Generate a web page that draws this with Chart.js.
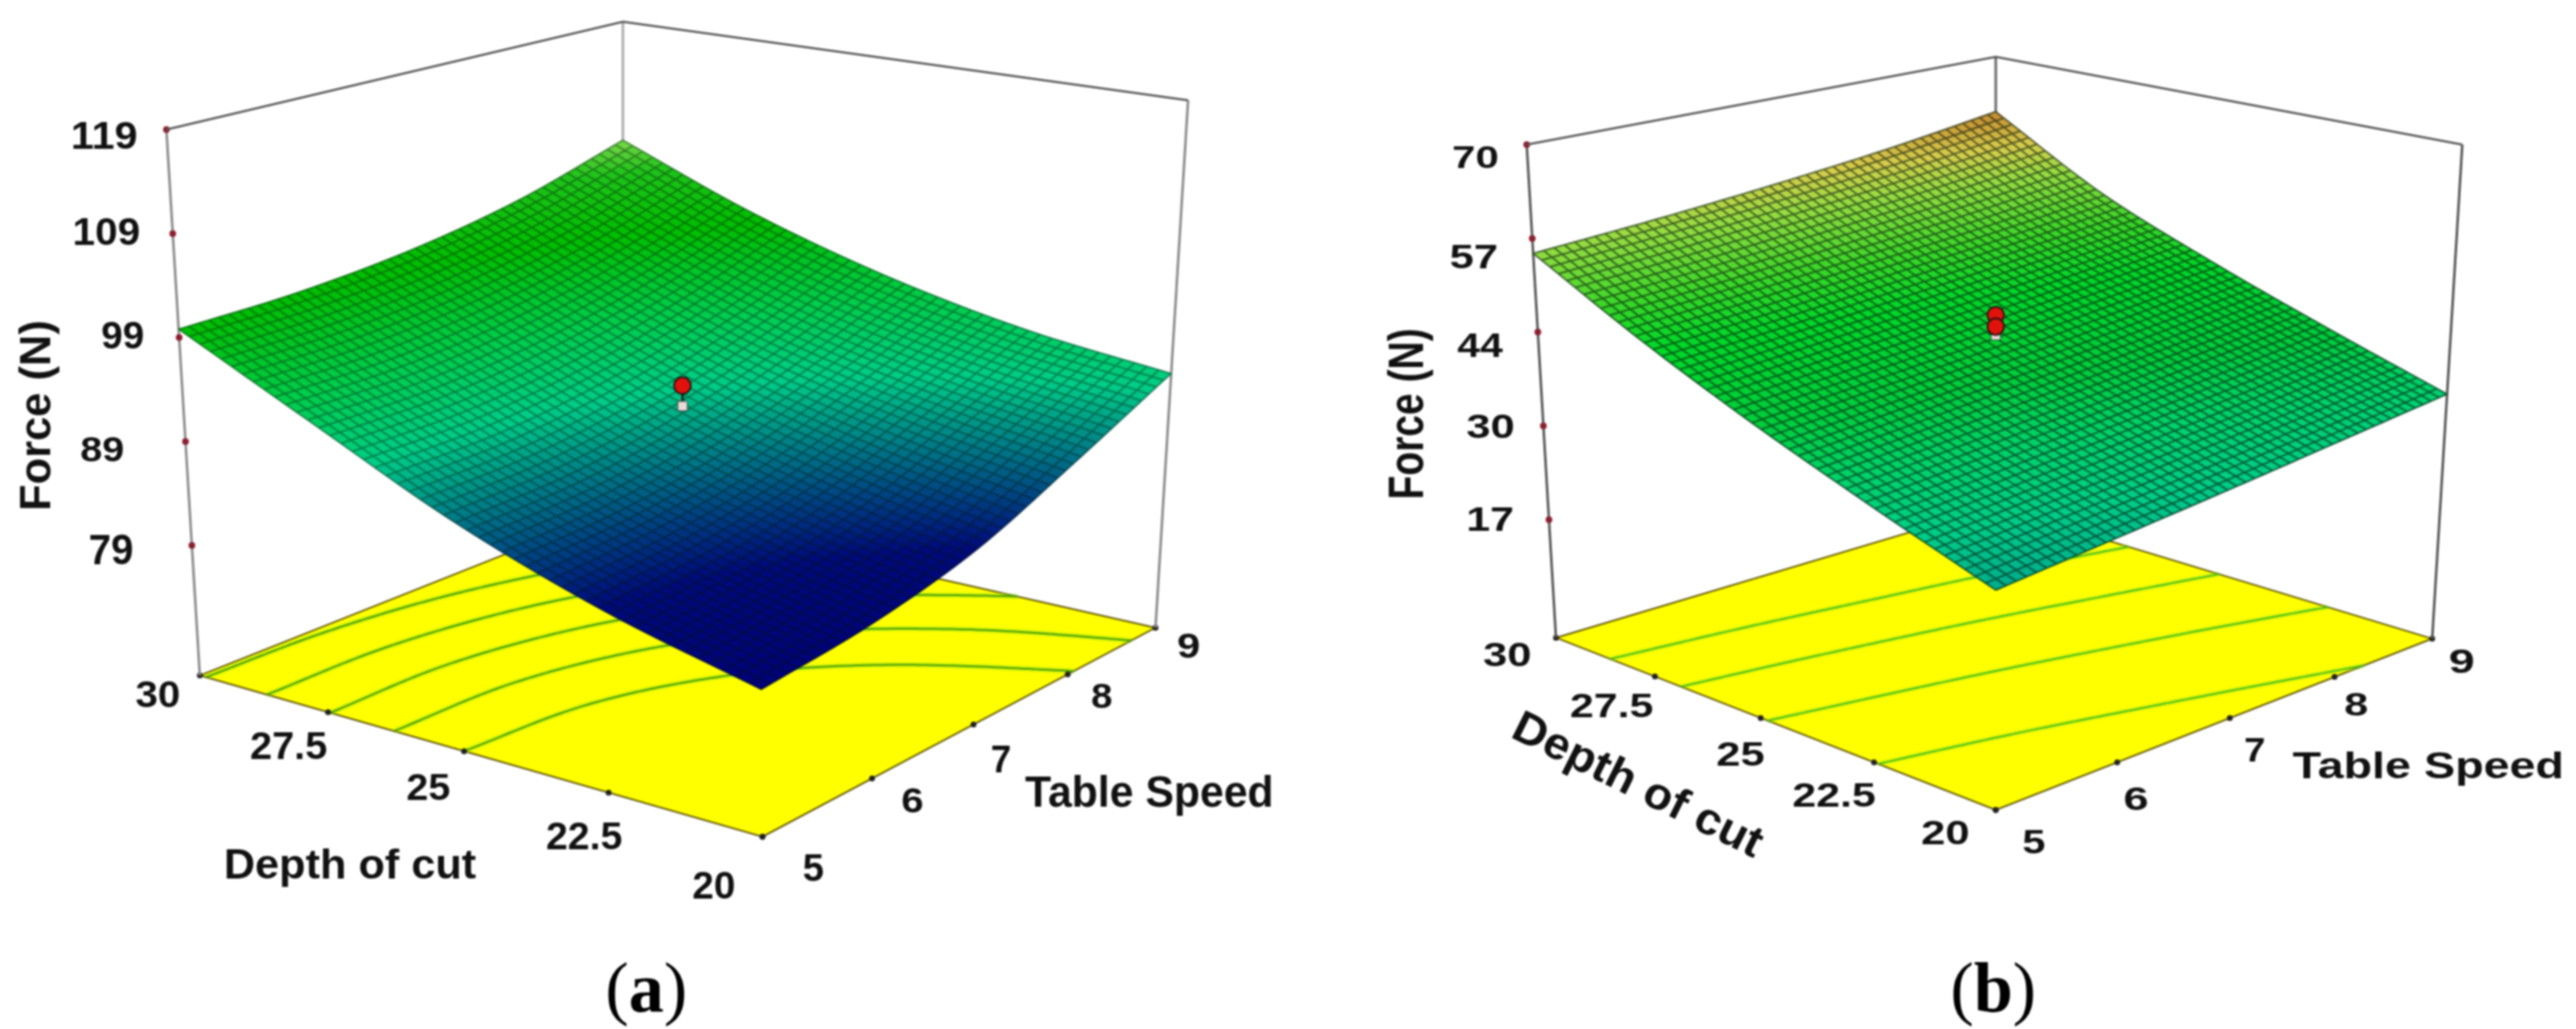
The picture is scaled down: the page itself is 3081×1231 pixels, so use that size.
<!DOCTYPE html>
<html>
<head>
<meta charset="utf-8">
<title>Force response surfaces</title>
<script src="https://cdn.jsdelivr.net/npm/chart.js@4"></script>
<style>
    html, body { margin: 0; padding: 0; background: #fff; }
    body { width: 3081px; height: 1231px; position: relative; overflow: hidden; }
    canvas { position: absolute; top: 0; filter: blur(0.8px); }
    #chartA { left: 0; }
    #chartB { left: 1540px; }
</style>
</head>
<body>
<canvas id="chartA" width="1540" height="1231"></canvas>
<canvas id="chartB" width="1541" height="1231"></canvas>
<script>
// ----------------------------
// 1. Data
// ----------------------------
const tableSpeed = [5, 6, 7, 8, 9];
const depthOfCut = [20, 22.5, 25, 27.5, 30];

// (a) force over table speed, one array per depth of cut
const forceA20 = [79.4, 80.6, 83.0, 87.2, 91.8];
const forceA22 = [82.8, 83.8, 86.0, 89.6, 93.6];
const forceA25 = [87.5, 88.0, 89.8, 92.8, 96.6];
const forceA27 = [93.6, 93.7, 95.0, 97.4, 100.8];
const forceA30 = [99.8, 100.0, 101.0, 103.0, 106.2];
const forceTicksA = [79, 89, 99, 109, 119];
const contourLevelsA = [87.5, 90.5, 93.5, 96.5, 99.5];
const designRedA = [92.5];
const designWhiteA = [90.5];

// (b)
const forceB20 = [28.6, 30.2, 31.8, 33.5, 35.2];
const forceB22 = [34.2, 35.6, 37.2, 38.8, 40.5];
const forceB25 = [40.2, 41.6, 43.0, 44.6, 46.2];
const forceB27 = [47.0, 48.2, 49.6, 51.0, 52.7];
const forceB30 = [54.8, 56.0, 57.5, 59.3, 61.6];
const forceTicksB = [17.6, 30.7, 43.8, 56.9, 70];
const contourLevelsB = [34, 39.8, 45.2, 50.4];
const designRedB = [46.2, 44.6];
const designWhiteB = [43.4];

// ----------------------------
// 2. Panel set-up (view box and colours)
// ----------------------------
const panelA = {
    canvas: 'chartA', xMin: 0, xMax: 1540,
    grid: [forceA20, forceA22, forceA25, forceA27, forceA30],
    ticks: forceTicksA, contours: contourLevelsA, red: designRedA, white: designWhiteA,
    zMin: 66.5, zMax: 119,
    floor: { F: [912, 1001], R: [1382, 751], B: [745, 607], L: [239, 808] },
    top: { F: [906, 284], R: [1421, 120], B: [745, 26], L: [199, 155] },
    stops: [[79, 0, 0, 118], [83, 0, 10, 122], [85.5, 0, 70, 130], [88, 0, 130, 135], [91, 0, 205, 135],
            [95, 0, 205, 75], [100, 0, 190, 0], [104, 30, 195, 25], [106.5, 135, 220, 80]],
    meshAlpha: 0.4,
    backEdge: '#aaaaaa', sideEdge: '#8a8a8a', boxEdge: '#555555',
    contourColour: 'rgba(50,145,10,0.95)', glowColour: 'rgba(150,225,20,0.35)',
    texts: [
        ['79', 107, 640, 158, 675], ['89', 97, 522, 147, 552], ['99', 122, 385, 171, 417],
        ['109', 89, 261, 166, 293], ['119', 87, 146, 163, 178],
        ['30', 163, 815, 214, 846], ['27.5', 300, 876, 391, 908], ['25', 487, 926, 538, 957],
        ['22.5', 654, 984, 744, 1016], ['20', 829, 1043, 878, 1075],
        ['5', 961, 1022, 985, 1054], ['6', 1079, 942, 1103, 972], ['7', 1186, 892, 1208, 924],
        ['8', 1306, 817, 1330, 847], ['9', 1409, 757, 1434, 787],
        ['Table Speed', 1226, 928, 1520, 976], ['Depth of cut', 270, 1014, 570, 1061]
    ],
    rotated: [['Force (N)', 47, 497, 224, 48, -90]],
    tag: ['a', 773, 1190]
};

const panelB = {
    canvas: 'chartB', xMin: 1540, xMax: 3081,
    grid: [forceB20, forceB22, forceB25, forceB27, forceB30],
    ticks: forceTicksB, contours: contourLevelsB, red: designRedB, white: designWhiteB,
    zMin: 1.1, zMax: 70,
    floor: { F: [2387, 969], R: [2909, 764], B: [2387, 606], L: [1861, 763] },
    top: { F: [2387, 310], R: [2945, 173], B: [2387, 68], L: [1826, 173] },
    stops: [[28, 0, 165, 140], [32, 0, 205, 135], [36, 0, 210, 105], [40, 0, 205, 60], [46, 0, 215, 40],
            [50, 60, 215, 40], [55, 150, 220, 65], [58, 215, 205, 75], [62, 195, 130, 45]],
    meshAlpha: 0.6,
    backEdge: '#666666', sideEdge: '#555555', boxEdge: '#555555',
    contourColour: 'rgba(40,180,30,0.9)', glowColour: 'rgba(170,230,20,0.3)',
    texts: [
        ['17', 1756, 607, 1809, 635], ['30', 1755, 495, 1810, 524], ['44', 1743, 399, 1798, 427],
        ['57', 1735, 293, 1790, 321], ['70', 1738, 175, 1791, 201],
        ['30', 1775, 769, 1830, 797], ['27.5', 1879, 829, 1977, 858], ['25', 2054, 888, 2110, 916],
        ['22.5', 2145, 936, 2243, 965], ['20', 2299, 982, 2354, 1010],
        ['5', 2420, 992, 2446, 1021], ['6', 2541, 942, 2568, 969], ['7', 2685, 882, 2708, 911],
        ['8', 2805, 829, 2832, 856], ['9', 2930, 777, 2958, 805],
        ['Table Speed', 2742, 898, 3063, 940]
    ],
    rotated: [['Force (N)', 1687, 495, 201, 55, -90], ['Depth of cut', 1959, 942, 325, 50, 26.5]],
    tag: ['b', 2384, 1190]
};

// ----------------------------
// 3. Projection of the 3D box
// ----------------------------
function quadMap(p0, p1, p2, p3) {
    const sx = p0[0] - p1[0] + p2[0] - p3[0], sy = p0[1] - p1[1] + p2[1] - p3[1];
    const dx1 = p1[0] - p2[0], dx2 = p3[0] - p2[0], dy1 = p1[1] - p2[1], dy2 = p3[1] - p2[1];
    const den = dx1 * dy2 - dx2 * dy1;
    const g = (sx * dy2 - dx2 * sy) / den, h = (dx1 * sy - sx * dy1) / den;
    const a = p1[0] - p0[0] + g * p1[0], b = p3[0] - p0[0] + h * p3[0];
    const d = p1[1] - p0[1] + g * p1[1], e = p3[1] - p0[1] + h * p3[1];
    return (u, v) => {
        const w = g * u + h * v + 1;
        return [(a * u + b * v + p0[0]) / w, (d * u + e * v + p0[1]) / w];
    };
}

function makeProjector(panel) {
    const floorMap = quadMap(panel.floor.F, panel.floor.R, panel.floor.B, panel.floor.L);
    const topMap = quadMap(panel.top.F, panel.top.R, panel.top.B, panel.top.L);
    return (speed, depth, force) => {
        const u = (speed - 5) / 4, v = (depth - 20) / 10;
        const f = floorMap(u, v), t = topMap(u, v);
        const k = (force - panel.zMin) / (panel.zMax - panel.zMin);
        return { x: f[0] + (t[0] - f[0]) * k, y: f[1] + (t[1] - f[1]) * k };
    };
}

// smooth read-out between the grid nodes, only used to draw the fine mesh
function spline(vals, t) {
    const n = vals.length - 1;
    const pos = Math.min(Math.max(t, 0), 1) * n;
    const i = Math.min(Math.floor(pos), n - 1);
    const s = pos - i;
    const p1 = vals[i], p2 = vals[i + 1];
    const p0 = i > 0 ? vals[i - 1] : 2 * p1 - p2;
    const p3 = i + 2 <= n ? vals[i + 2] : 2 * p2 - p1;
    return 0.5 * (2 * p1 + (p2 - p0) * s + (2 * p0 - 5 * p1 + 4 * p2 - p3) * s * s + (3 * p1 - p0 - 3 * p2 + p3) * s * s * s);
}

function forceAt(grid, u, v) {
    return spline(grid.map(row => spline(row, u)), v);
}

function colourFor(stops, val) {
    if (val <= stops[0][0]) return stops[0].slice(1);
    for (let i = 1; i < stops.length; i++) {
        if (val <= stops[i][0]) {
            const a = stops[i - 1], b = stops[i], k = (val - a[0]) / (b[0] - a[0]);
            return [a[1] + (b[1] - a[1]) * k, a[2] + (b[2] - a[2]) * k, a[3] + (b[3] - a[3]) * k];
        }
    }
    return stops[stops.length - 1].slice(1);
}

// ----------------------------
// 4. Contours on the floor
// ----------------------------
function contourPoints(panel, project, level) {
    const steps = 120, points = [];
    const at = (i, j) => forceAt(panel.grid, i / steps, j / steps);
    for (let i = 0; i < steps; i++) {
        for (let j = 0; j < steps; j++) {
            const corners = [[i, j], [i + 1, j], [i + 1, j + 1], [i, j + 1]];
            const vals = corners.map(c => at(c[0], c[1]));
            const hits = [];
            for (let k = 0; k < 4; k++) {
                const a = vals[k], b = vals[(k + 1) % 4];
                if ((a < level) !== (b < level)) {
                    const s = (level - a) / (b - a);
                    const ca = corners[k], cb = corners[(k + 1) % 4];
                    hits.push([(ca[0] + (cb[0] - ca[0]) * s) / steps, (ca[1] + (cb[1] - ca[1]) * s) / steps]);
                }
            }
            if (hits.length >= 2) {
                hits.slice(0, 2).forEach(h => points.push(project(5 + h[0] * 4, 20 + h[1] * 10, panel.zMin)));
                points.push({ x: NaN, y: NaN });
            }
        }
    }
    return points;
}

// ----------------------------
// 5. Plugins: surface and text
// ----------------------------
const surfacePlugin = {
    id: 'surface',
    afterDatasetDraw(chart, args, opts) {
        if (chart.data.datasets[args.index].label !== 'box') return;
        const panel = opts.panel, project = opts.project;
        const sx = chart.scales.x, sy = chart.scales.y;
        const ctx = chart.ctx, N = 50, P = [], C = [];
        for (let i = 0; i <= N; i++) {
            P.push([]); C.push([]);
            for (let j = 0; j <= N; j++) {
                const val = forceAt(panel.grid, j / N, i / N);
                const q = project(5 + 4 * j / N, 20 + 10 * i / N, val);
                P[i].push([sx.getPixelForValue(q.x), sy.getPixelForValue(q.y)]);
                C[i].push(val);
            }
        }
        ctx.save();
        ctx.lineWidth = 1;
        for (let i = 0; i < N; i++) {
            for (let j = 0; j < N; j++) {
                const avg = (C[i][j] + C[i + 1][j] + C[i][j + 1] + C[i + 1][j + 1]) / 4;
                const c = colourFor(panel.stops, avg).map(Math.round);
                ctx.fillStyle = ctx.strokeStyle = `rgb(${c[0]},${c[1]},${c[2]})`;
                ctx.beginPath();
                ctx.moveTo(P[i][j][0], P[i][j][1]);
                ctx.lineTo(P[i][j + 1][0], P[i][j + 1][1]);
                ctx.lineTo(P[i + 1][j + 1][0], P[i + 1][j + 1][1]);
                ctx.lineTo(P[i + 1][j][0], P[i + 1][j][1]);
                ctx.closePath();
                ctx.fill();
                ctx.stroke();
            }
        }
        // mesh lines
        ctx.strokeStyle = `rgba(0,20,10,${panel.meshAlpha})`;
        ctx.lineWidth = 2;
        ctx.beginPath();
        for (let i = 0; i <= N; i++) {
            for (let j = 0; j <= N; j++) {
                if (j === 0) ctx.moveTo(P[i][j][0], P[i][j][1]); else ctx.lineTo(P[i][j][0], P[i][j][1]);
            }
            for (let j = 0; j <= N; j++) {
                if (j === 0) ctx.moveTo(P[j][i][0], P[j][i][1]); else ctx.lineTo(P[j][i][0], P[j][i][1]);
            }
        }
        ctx.stroke();
        ctx.restore();
    }
};

function fitText(ctx, str, cx, cy, w, h, deg) {
    const m = ctx.measureText(str);
    const inkW = m.actualBoundingBoxLeft + m.actualBoundingBoxRight;
    const inkH = m.actualBoundingBoxAscent + m.actualBoundingBoxDescent;
    ctx.save();
    ctx.translate(cx, cy);
    ctx.rotate(deg * Math.PI / 180);
    ctx.scale(w / inkW, h / inkH);
    ctx.fillText(str, -inkW / 2 + m.actualBoundingBoxLeft, inkH / 2 - m.actualBoundingBoxDescent);
    ctx.restore();
}

const textPlugin = {
    id: 'panelText',
    afterDraw(chart, args, opts) {
        const panel = opts.panel, ctx = chart.ctx;
        const dx = -panel.xMin;
        ctx.save();
        ctx.fillStyle = '#111';
        ctx.textAlign = 'left';
        ctx.textBaseline = 'alphabetic';
        ctx.font = 'bold 44px "Liberation Sans"';
        panel.texts.forEach(t => {
            fitText(ctx, t[0], (t[1] + t[3]) / 2 + dx, (t[2] + t[4]) / 2, t[3] - t[1], t[4] - t[2], 0);
        });
        panel.rotated.forEach(t => fitText(ctx, t[0], t[1] + dx, t[2], t[3], t[4], t[5]));
        // panel tag: regular brackets, bold letter
        const tag = panel.tag;
        ctx.fillStyle = '#000';
        ctx.font = '84px "Liberation Serif"';
        const open = ctx.measureText('(').width;
        ctx.font = 'bold 84px "Liberation Serif"';
        const mid = ctx.measureText(tag[0]).width;
        const x0 = tag[1] + dx - (2 * open + mid) / 2;
        ctx.fillText(tag[0], x0 + open, tag[2] + 20);
        ctx.font = '84px "Liberation Serif"';
        ctx.fillText('(', x0, tag[2] + 20);
        ctx.fillText(')', x0 + open + mid, tag[2] + 20);
        ctx.restore();
    }
};

Chart.register(surfacePlugin, textPlugin);

// ----------------------------
// 6. Build one chart per panel
// ----------------------------
function lineSet(label, data, colour, width, extra) {
    return Object.assign({
        label: label, data: data, showLine: true, borderColor: colour, borderWidth: width,
        pointRadius: 0, fill: false, tension: 0, spanGaps: false
    }, extra || {});
}

function drawPanel(panel) {
    const project = makeProjector(panel);
    const z0 = panel.zMin, z1 = panel.zMax;
    const first = tableSpeed[0], last = tableSpeed[4], near = depthOfCut[0], far = depthOfCut[4];
    const datasets = [];

    datasets.push(lineSet('floor', [
        project(first, near, z0), project(last, near, z0), project(last, far, z0),
        project(first, far, z0), project(first, near, z0)
    ], 'rgba(90,80,0,0.9)', 2, { fill: 'shape', backgroundColor: '#ffff00' }));

    panel.contours.forEach(level => {
        const pts = contourPoints(panel, project, level);
        datasets.push(lineSet('glow', pts, panel.glowColour, 7));
        datasets.push(lineSet('contour', pts, panel.contourColour, 2));
    });

    // floor ticks
    const floorTicks = depthOfCut.map(d => project(first, d, z0)).concat(tableSpeed.map(s => project(s, near, z0)));
    datasets.push({ label: 'floorTicks', data: floorTicks, pointRadius: 3.5, pointBackgroundColor: '#222', pointBorderWidth: 0, showLine: false });

    // box edges, the surface is painted right after the last one
    datasets.push(lineSet('edgeBack', [project(last, far, z0), project(last, far, z1)], panel.backEdge, 3));
    datasets.push(lineSet('edgeLeft', [project(first, far, z0), project(first, far, z1)], panel.sideEdge, 3));
    datasets.push(lineSet('edgeRight', [project(last, near, z0), project(last, near, z1)], panel.sideEdge, 3));
    datasets.push({
        label: 'forceTicks', data: panel.ticks.map(t => project(first, far, t)),
        pointRadius: 4, pointBackgroundColor: '#8a2030', pointBorderWidth: 0, showLine: false
    });
    datasets.push(lineSet('box', [project(first, far, z1), project(last, far, z1), project(last, near, z1)], panel.boxEdge, 2.5));

    // design points above the surface
    const mid = tableSpeed[2], midDepth = depthOfCut[2];
    const stem = panel.red.concat(panel.white).map(f => project(mid, midDepth, f));
    datasets.push(lineSet('stem', stem, '#222', 3));
    datasets.push({
        label: 'designWhite', data: panel.white.map(f => project(mid, midDepth, f)),
        pointStyle: 'rect', pointRadius: 8, pointBackgroundColor: '#e8dcd8', pointBorderColor: '#444', pointBorderWidth: 1, showLine: false
    });
    datasets.push({
        label: 'designRed', data: panel.red.map(f => project(mid, midDepth, f)),
        pointRadius: 10, pointBackgroundColor: '#e0120c', pointBorderColor: '#2a1010', pointBorderWidth: 2, showLine: false
    });

    // chart.js paints the first dataset on top, so hand them over back to front
    new Chart(document.getElementById(panel.canvas), {
        type: 'scatter',
        data: { datasets: datasets.reverse() },
        options: {
            responsive: false,
            animation: false,
            events: [],
            layout: { padding: 0, autoPadding: false },
            scales: {
                x: { type: 'linear', display: false, min: panel.xMin, max: panel.xMax },
                y: { type: 'linear', display: false, min: 0, max: 1231, reverse: true }
            },
            plugins: {
                legend: { display: false },
                tooltip: { enabled: false },
                surface: { panel: panel, project: project },
                panelText: { panel: panel }
            }
        }
    });
}

document.addEventListener('DOMContentLoaded', function() {
    drawPanel(panelA);
    drawPanel(panelB);
});
</script>
</body>
</html>
